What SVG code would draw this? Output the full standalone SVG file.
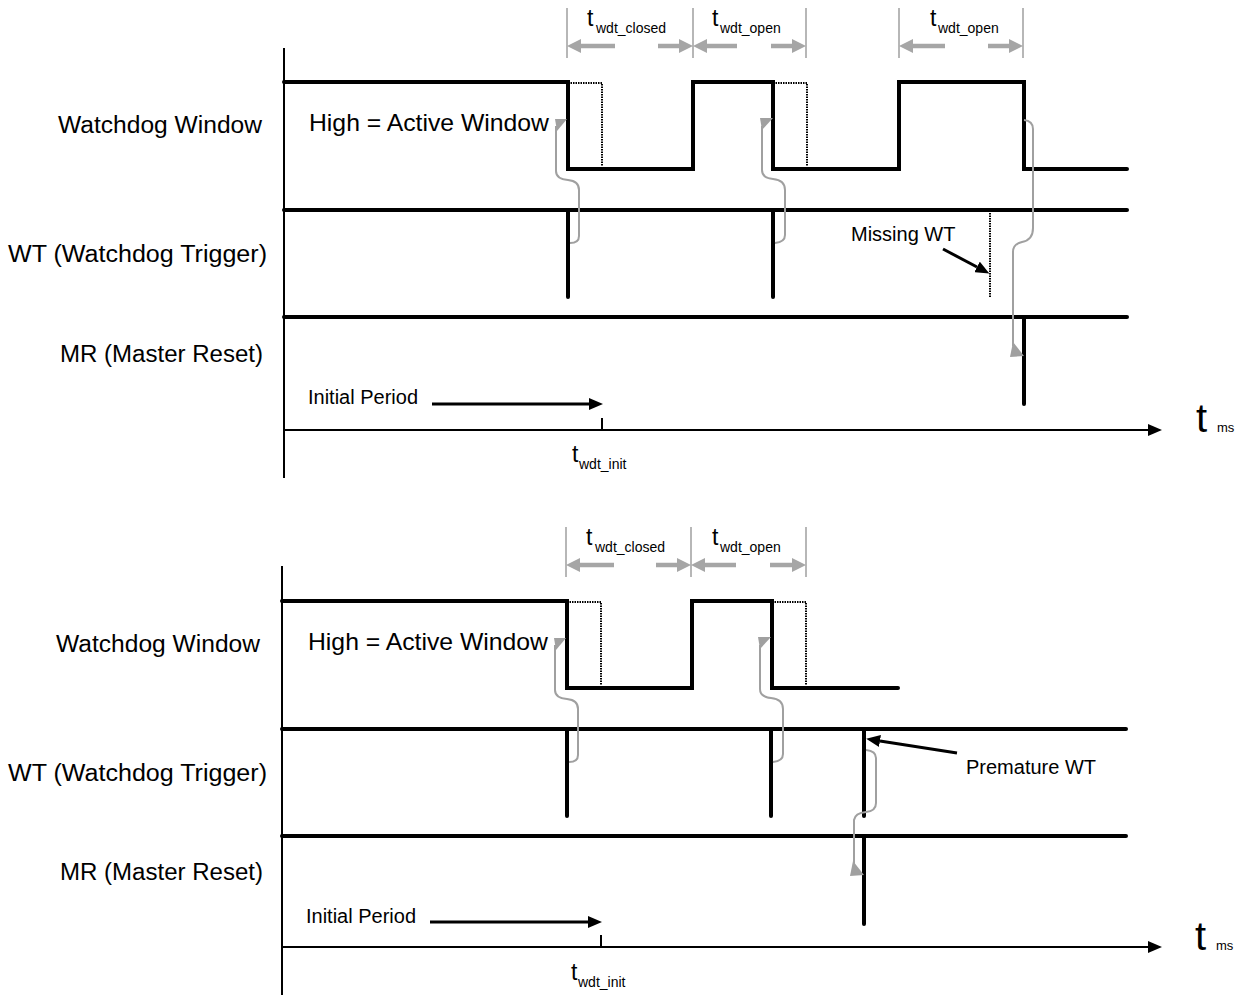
<svg xmlns="http://www.w3.org/2000/svg" width="1245" height="995" viewBox="0 0 1245 995">
<style>
.sig{fill:none;stroke:#000;stroke-width:4;stroke-linejoin:miter;stroke-linecap:round}
.axis{fill:none;stroke:#000;stroke-width:2}
.dot{fill:none;stroke:#000;stroke-width:2;stroke-dasharray:1.5 1}
.dim{fill:none;stroke:#a6a6a6;stroke-width:1.6}
.dimarr{fill:none;stroke:#a6a6a6;stroke-width:4.5}
.garr{fill:none;stroke:#a0a0a0;stroke-width:2}
.ghead{fill:#a0a0a0}
.barr{fill:none;stroke:#000;stroke-width:3}
text{font-family:"Liberation Sans",Arial,sans-serif;fill:#000}
.lbl{font-size:23px}
.sm{font-size:20px}
.tt{font-size:23px}
.sub{font-size:14px}
</style>
<defs>
<marker id="gd" viewBox="0 0 14 14" refX="0" refY="7" markerWidth="14" markerHeight="14" markerUnits="userSpaceOnUse" orient="auto"><path d="M0,0 L14,7 L0,14 z" fill="#a6a6a6"/></marker>
<marker id="bk" viewBox="0 0 14 12" refX="0" refY="6" markerWidth="14" markerHeight="12" markerUnits="userSpaceOnUse" orient="auto"><path d="M0,0 L14,6 L0,12 z" fill="#000"/></marker>
</defs>

<g id="top-labels">
<text class="lbl" x="262" y="133" text-anchor="end" textLength="204" lengthAdjust="spacingAndGlyphs">Watchdog Window</text>
<text class="lbl" x="267" y="262" text-anchor="end" textLength="259" lengthAdjust="spacingAndGlyphs">WT (Watchdog Trigger)</text>
<text class="lbl" x="263" y="362" text-anchor="end" textLength="203" lengthAdjust="spacingAndGlyphs">MR (Master Reset)</text>
<text x="309" y="131" font-size="24" textLength="240" lengthAdjust="spacingAndGlyphs">High = Active Window</text>
</g>

<g id="top-axes">
<path class="axis" d="M284,48 V478"/>
<path class="axis" d="M284,430 H1148" marker-end="url(#bk)"/>
<path class="axis" d="M602,418 V430"/>
<text x="1196" y="432" font-size="40">t</text>
<text x="1217" y="432" font-size="13">ms</text>
<text x="308" y="404" class="sm" textLength="110" lengthAdjust="spacingAndGlyphs">Initial Period</text>
<path class="barr" d="M432,404 H589" marker-end="url(#bk)"/>
<text x="572" y="462" class="tt">t</text>
<text x="579" y="469" class="sub">wdt_init</text>
</g>

<g id="top-watchdog">
<path class="sig" d="M284,82 H568 V169 H693 V82 H773 V169 H899 V82 H1024 V169 H1127"/>
<path class="dot" d="M568,83 H602 V166"/>
<path class="dot" d="M773,83 H807 V166"/>
</g>

<g id="top-wt">
<path class="sig" d="M284,210 H1127"/>
<path class="sig" d="M568,210 V297"/>
<path class="sig" d="M773,210 V297"/>
<path class="dot" d="M990,213 V298"/>
<text x="851" y="241" class="sm">Missing WT</text>
<path class="barr" d="M943,249 L977,267" marker-end="url(#bk)"/>
</g>

<g id="top-mr">
<path class="sig" d="M284,317 H1127"/>
<path class="sig" d="M1024,317 V404"/>
</g>

<g id="top-dims">
<path class="dim" d="M567,8 V58 M693,8 V58 M806,8 V58 M899,8 V58 M1023,8 V58"/>
<path class="dimarr" d="M615,46 H581" marker-end="url(#gd)"/>
<path class="dimarr" d="M658,46 H679" marker-end="url(#gd)"/>
<path class="dimarr" d="M737,46 H707" marker-end="url(#gd)"/>
<path class="dimarr" d="M771,46 H792" marker-end="url(#gd)"/>
<path class="dimarr" d="M945,46 H913" marker-end="url(#gd)"/>
<path class="dimarr" d="M988,46 H1009" marker-end="url(#gd)"/>
<text x="587" y="26" class="tt">t</text><text x="596" y="33" class="sub">wdt_closed</text>
<text x="712" y="26" class="tt">t</text><text x="720" y="33" class="sub">wdt_open</text>
<text x="930" y="26" class="tt">t</text><text x="938" y="33" class="sub">wdt_open</text>
</g>

<g id="top-connectors">
<path class="garr" d="M570,243 Q579,243 579,236 V190 Q579,181 568,180 Q556,179 556,171 V126"/>
<polygon class="ghead" points="555,119 567,119 557,131"/>
<path class="garr" d="M775,243 Q785,242 785,235 V190 Q785,180 773,179 Q762,178 762,170 V126"/>
<polygon class="ghead" points="760,118 773,118 762,130"/>
<path class="garr" d="M1024,120 Q1033,121 1033,129 V228 Q1033,240 1022,242 Q1013,244 1013,252 V346"/>
<polygon class="ghead" points="1013,342 1010,357 1024,356"/>
</g>

<g id="bot-labels">
<text class="lbl" x="260" y="652" text-anchor="end" textLength="204" lengthAdjust="spacingAndGlyphs">Watchdog Window</text>
<text class="lbl" x="267" y="781" text-anchor="end" textLength="259" lengthAdjust="spacingAndGlyphs">WT (Watchdog Trigger)</text>
<text class="lbl" x="263" y="880" text-anchor="end" textLength="203" lengthAdjust="spacingAndGlyphs">MR (Master Reset)</text>
<text x="308" y="650" font-size="24" textLength="240" lengthAdjust="spacingAndGlyphs">High = Active Window</text>
</g>

<g id="bot-axes">
<path class="axis" d="M282,566 V995"/>
<path class="axis" d="M282,947 H1148" marker-end="url(#bk)"/>
<path class="axis" d="M601,935 V947"/>
<text x="1195" y="950" font-size="40">t</text>
<text x="1216" y="950" font-size="13">ms</text>
<text x="306" y="923" class="sm" textLength="110" lengthAdjust="spacingAndGlyphs">Initial Period</text>
<path class="barr" d="M430,922 H588" marker-end="url(#bk)"/>
<text x="571" y="980" class="tt">t</text>
<text x="578" y="987" class="sub">wdt_init</text>
</g>

<g id="bot-watchdog">
<path class="sig" d="M282,601 H567 V688 H692 V601 H772 V688 H898"/>
<path class="dot" d="M567,602 H601 V685"/>
<path class="dot" d="M772,602 H806 V685"/>
</g>

<g id="bot-wt">
<path class="sig" d="M282,729 H1126"/>
<path class="sig" d="M567,729 V816"/>
<path class="sig" d="M771,729 V816"/>
<path class="sig" d="M864,729 V816"/>
<text x="966" y="774" class="sm">Premature WT</text>
<path class="barr" d="M957,753 L880,741" marker-end="url(#bk)"/>
</g>

<g id="bot-mr">
<path class="sig" d="M282,836 H1126"/>
<path class="sig" d="M864,836 V924"/>
</g>

<g id="bot-dims">
<path class="dim" d="M566,527 V577 M691,527 V577 M806,527 V577"/>
<path class="dimarr" d="M614,565 H580" marker-end="url(#gd)"/>
<path class="dimarr" d="M656,565 H677" marker-end="url(#gd)"/>
<path class="dimarr" d="M736,565 H705" marker-end="url(#gd)"/>
<path class="dimarr" d="M770,565 H792" marker-end="url(#gd)"/>
<text x="586" y="545" class="tt">t</text><text x="595" y="552" class="sub">wdt_closed</text>
<text x="712" y="545" class="tt">t</text><text x="720" y="552" class="sub">wdt_open</text>
</g>

<g id="bot-connectors">
<path class="garr" d="M569,762 Q578,762 578,755 V709 Q578,700 567,699 Q555,698 555,690 V645"/>
<polygon class="ghead" points="554,638 566,638 556,650"/>
<path class="garr" d="M773,762 Q783,761 783,754 V709 Q783,699 771,698 Q760,697 760,689 V645"/>
<polygon class="ghead" points="758,637 771,637 760,649"/>
<path class="garr" d="M866,750 Q876,751 876,758 V803 Q876,811 866,812 Q855,813 854,820 V866"/>
<polygon class="ghead" points="853,861 850,876 864,875"/>
</g>
</svg>
